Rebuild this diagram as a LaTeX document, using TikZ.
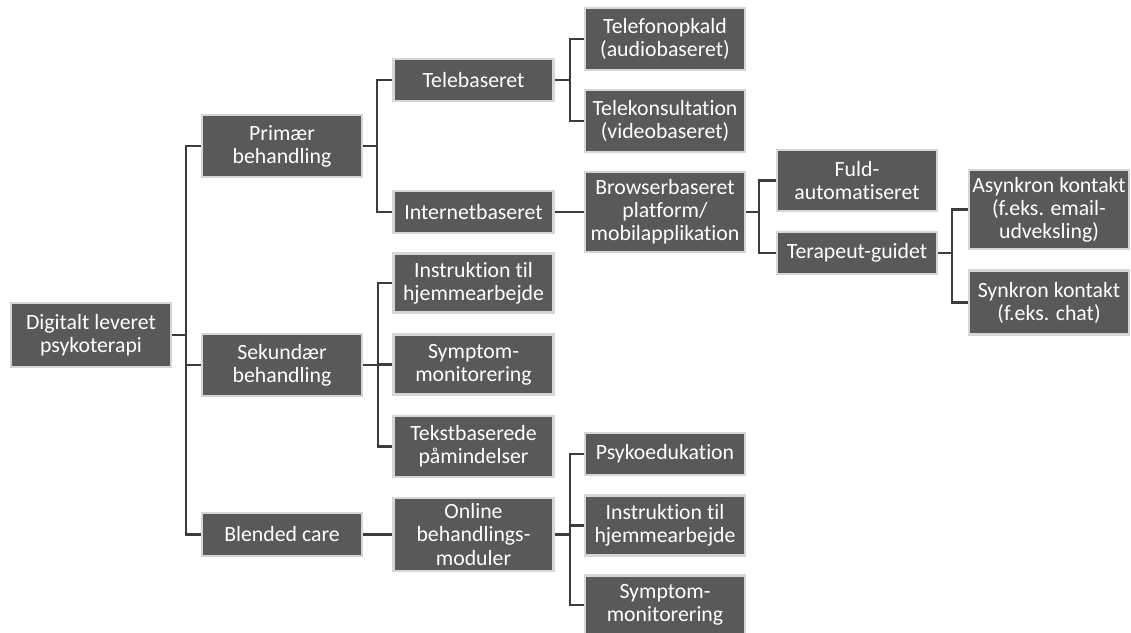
\documentclass[tikz,border=0pt]{standalone}
\usepackage{fontspec}
\setmainfont[Ligatures=NoCommon]{Carlito}
\definecolor{boxfill}{HTML}{595959}
\definecolor{boxedge}{HTML}{D6D6D6}
\definecolor{linecol}{HTML}{3C3C3C}
\begin{document}
\begin{tikzpicture}[x=0.02cm,y=-0.02cm,
  box/.style={draw=boxedge, line width=1.3pt, fill=boxfill, text=white,
    minimum width=3.2cm, inner sep=0.3pt, align=center,
    font=\fontsize{12.4}{13.1}\selectfont},
  conn/.style={draw=linecol, line width=1.2pt}]
\useasboundingbox (0,0) rectangle (1131,632);
% level 0
\node[box, minimum height=1.28cm] (root) at (91,335) {Digitalt leveret\\psykoterapi};
% level 1
\node[box, minimum height=1.24cm] (prim) at (282,146) {Primær\\behandling};
\node[box, minimum height=1.24cm] (sek) at (282,365) {Sekundær\\behandling};
\node[box, minimum height=0.86cm] (blend) at (282,534.5) {Blended care};
% level 2
\node[box, minimum height=0.84cm] (tele) at (473.5,80) {Telebaseret};
\node[box, minimum height=0.84cm] (inet) at (473.5,212) {Internetbaseret};
\node[box, minimum height=1.18cm] (instrA) at (473.5,283) {Instruktion til\\hjemmearbejde};
\node[box, minimum height=1.2cm] (sympA) at (473.5,364.5) {Symptom-\\monitorering};
\node[box, minimum height=1.22cm] (tekst) at (473.5,446.5) {Tekstbaserede\\påmindelser};
\node[box, minimum height=1.46cm] (online) at (473.5,534.5) {Online\\behandlings-\\moduler};
% level 3
\node[box, minimum height=1.24cm] (telef) at (665,39) {Telefonopkald\\(audiobaseret)};
\node[box, minimum height=1.24cm] (telek) at (665,121) {Telekonsultation\\(videobaseret)};
\node[box, minimum height=1.6cm] (browser) at (665,212) {Browserbaseret\\platform/\\mobilapplikation};
\node[box, minimum height=0.84cm] (psyko) at (665,454) {Psykoedukation};
\node[box, minimum height=1.2cm] (instrB) at (665,525.5) {Instruktion til\\hjemmearbejde};
\node[box, minimum height=1.18cm] (sympB) at (665,605) {Symptom-\\monitorering};
% level 4
\node[box, minimum height=1.22cm] (fuld) at (857,180.5) {Fuld-\\automatiseret};
\node[box, minimum height=0.84cm] (terap) at (857,253) {Terapeut-guidet};
% level 5
\node[box, minimum height=1.58cm] (async) at (1049,209.5) {Asynkron kontakt\\(f.eks. email-\\udveksling)};
\node[box, minimum height=1.28cm] (sync) at (1049,302.5) {Synkron kontakt\\(f.eks. chat)};
% connectors
\draw[conn] (root.east) -- ++(14,0) |- (prim.west);
\draw[conn] (root.east) -- ++(14,0) |- (sek.west);
\draw[conn] (root.east) -- ++(14,0) |- (blend.west);
\draw[conn] (prim.east) -- ++(14,0) |- (tele.west);
\draw[conn] (prim.east) -- ++(14,0) |- (inet.west);
\draw[conn] (sek.east) -- ++(15,0) |- (instrA.west);
\draw[conn] (sek.east) -- ++(15,0) |- (sympA.west);
\draw[conn] (sek.east) -- ++(15,0) |- (tekst.west);
\draw[conn] (blend.east) -- (online.west);
\draw[conn] (tele.east) -- ++(15,0) |- (telef.west);
\draw[conn] (tele.east) -- ++(15,0) |- (telek.west);
\draw[conn] (inet.east) -- (browser.west);
\draw[conn] (online.east) -- ++(15,0) |- (psyko.west);
\draw[conn] (online.east) -- ++(15,0) |- (instrB.west);
\draw[conn] (online.east) -- ++(15,0) |- (sympB.west);
\draw[conn] (browser.east) -- ++(13,0) |- (fuld.west);
\draw[conn] (browser.east) -- ++(13,0) |- (terap.west);
\draw[conn] (terap.east) -- ++(14,0) |- (async.west);
\draw[conn] (terap.east) -- ++(14,0) |- (sync.west);
\end{tikzpicture}
\end{document}
